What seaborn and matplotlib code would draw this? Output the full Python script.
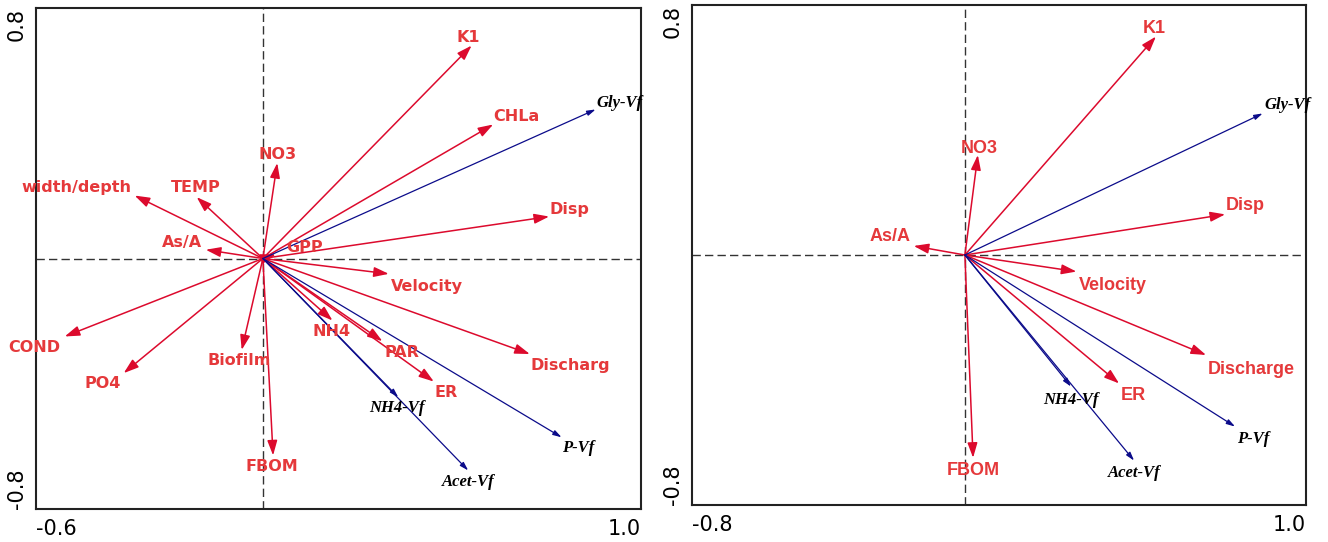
import matplotlib
matplotlib.use("Agg")
import matplotlib.pyplot as plt
import seaborn as sns
from matplotlib.patches import FancyArrowPatch

# ---------------- data ----------------
# Panel 1 : explanatory variables (red) and response variables (blue)
env1_names = ["K1", "CHLa", "Disp", "GPP", "Velocity", "Discharg", "PAR", "ER",
              "NH4", "FBOM", "Biofilm", "PO4", "COND", "width/depth", "TEMP",
              "As/A", "NO3"]
env1_x = [0.552, 0.609, 0.757, 0.034, 0.333, 0.706, 0.316, 0.452,
          0.184, 0.027, -0.056, -0.368, -0.524, -0.339, -0.175, -0.151, 0.038]
env1_y = [0.680, 0.428, 0.134, 0.013, -0.049, -0.305, -0.264, -0.393,
          -0.198, -0.629, -0.292, -0.366, -0.249, 0.201, 0.196, 0.028, 0.305]
sp1_names = ["Gly-Vf", "NH4-Vf", "P-Vf", "Acet-Vf"]
sp1_x = [0.880, 0.358, 0.790, 0.543]
sp1_y = [0.476, -0.443, -0.571, -0.677]

# Panel 2
env2_names = ["K1", "NO3", "As/A", "Disp", "Velocity", "Discharge", "ER", "FBOM"]
env2_x = [0.560, 0.038, -0.150, 0.763, 0.327, 0.707, 0.452, 0.024]
env2_y = [0.699, 0.320, 0.029, 0.130, -0.053, -0.320, -0.411, -0.649]
sp2_names = ["Gly-Vf", "NH4-Vf", "P-Vf", "Acet-Vf"]
sp2_x = [0.873, 0.311, 0.792, 0.496]
sp2_y = [0.453, -0.421, -0.549, -0.658]

# axes ticks / labels
x1_ticks = [-0.6, -0.4, -0.2, 0.0, 0.2, 0.4, 0.6, 0.8, 1.0]
x1_labels = ["-0.6", "", "", "", "", "", "", "", "1.0"]
y1_ticks = [-0.8, -0.6, -0.4, -0.2, 0.0, 0.2, 0.4, 0.6, 0.8]
y1_labels = ["-0.8", "", "", "", "", "", "", "", "0.8"]
x2_ticks = [-0.8, -0.5, 0.0, 0.5, 1.0]
x2_labels = ["-0.8", "", "", "", "1.0"]
y2_ticks = [-0.8, -0.5, 0.0, 0.5, 0.8]
y2_labels = ["-0.8", "", "", "", "0.8"]

# ---------------- label placement (pixels relative to the arrow tip, y down) ----------------
off1 = {
    "K1": (-3, -9, "center"), "CHLa": (0, -9, "left"), "Disp": (0, -8.5, "left"),
    "GPP": (11, -8, "left"), "Velocity": (2, 11, "left"), "Discharg": (1, 10, "left"),
    "PAR": (2, 10, "left"), "ER": (1, 10, "left"), "NH4": (-1, 9.5, "center"),
    "FBOM": (-1, 9.5, "center"), "Biofilm": (-2.5, 9.5, "center"),
    "PO4": (-3.3, 9.5, "right"), "COND": (-4, 9.5, "right"),
    "width/depth": (-3, -9, "right"), "TEMP": (-0.5, -10.5, "center"),
    "As/A": (-3.3, -8.5, "right"), "NO3": (0, -10, "center"),
    "Gly-Vf": (1, -8, "left"), "NH4-Vf": (-1, 9.5, "center"),
    "P-Vf": (0, 9.5, "left"), "Acet-Vf": (0, 10, "center"),
}
off2 = {
    "K1": (-1.5, -10, "center"), "NO3": (1, -8.7, "center"), "As/A": (-2.7, -11.5, "right"),
    "Disp": (0.7, -10.6, "left"), "Velocity": (2.3, 12, "left"),
    "Discharge": (1.7, 12.3, "left"), "ER": (1.7, 10.3, "left"), "FBOM": (0, 10.6, "center"),
    "Gly-Vf": (1.3, -10, "left"), "NH4-Vf": (0, 12.3, "center"),
    "P-Vf": (2.4, 10.8, "left"), "Acet-Vf": (0, 11.3, "center"),
}

RED_LINE = "#DC0A2D"
RED_TEXT = "#E5393B"
BLUE = "#0B0B8A"

sns.set_theme(style="white")
plt.rcParams["font.family"] = ["DejaVu Sans"]

W, H = 1328, 542
fig = plt.figure(figsize=(W / 100, H / 100), dpi=100)
ax1 = fig.add_axes([36 / W, (H - 509) / H, (641 - 36) / W, (509 - 8) / H])
ax2 = fig.add_axes([692 / W, (H - 505) / H, (1306 - 692) / W, (505 - 5) / H])


def draw_panel(ax, xlim, ylim, xt, xl, yt, yl, env, sp, offs, env_fs, env_font, sp_fs):
    ax.set_xlim(*xlim)
    ax.set_ylim(*ylim)
    ax.axhline(0, color="#333333", lw=1.0, ls=(0, (6, 3)), zorder=1)
    ax.axvline(0, color="#333333", lw=1.0, ls=(0, (6, 3)), zorder=1)

    for names, xs, ys, kind in (env + ("env",), sp + ("sp",)):
        for n, x, y in zip(names, xs, ys):
            if kind == "env":
                style = "-|>,head_length=0.9,head_width=0.3"
                col, lw = RED_LINE, 1.1
            else:
                style = "-|>,head_length=0.5,head_width=0.15"
                col, lw = BLUE, 0.9
            arr = FancyArrowPatch((0, 0), (x, y), arrowstyle=style, mutation_scale=10,
                                  shrinkA=0, shrinkB=0, color=col, lw=lw, zorder=3)
            ax.add_patch(arr)
            dx, dy, ha = offs[n]
            if kind == "env":
                cap = env_fs * 100 / 72 * 0.72
                ax.annotate(n, (x, y), xytext=(dx, -(dy + cap / 2)), textcoords="offset pixels",
                            ha=ha, va="baseline", color=RED_TEXT, fontsize=env_fs,
                            fontweight="bold", family=env_font,
                            zorder=4, annotation_clip=False)
            else:
                cap = sp_fs * 100 / 72 * 0.66
                ax.annotate(n, (x, y), xytext=(dx, -(dy + cap / 2)), textcoords="offset pixels",
                            ha=ha, va="baseline", color="black", fontsize=sp_fs,
                            fontweight="bold", style="italic",
                            family=["Liberation Serif", "DejaVu Serif"],
                            zorder=4, annotation_clip=False)

    ax.set_xticks(xt)
    ax.set_xticklabels(xl, fontsize=15, family="DejaVu Sans")
    ax.set_yticks(yt)
    ax.set_yticklabels(yl, fontsize=15, rotation=90, family="DejaVu Sans")
    ax.tick_params(axis="both", direction="inout", length=5, width=1.2, color="#222222",
                   labelcolor="black")
    ax.tick_params(axis="x", pad=5)
    ax.tick_params(axis="y", pad=4)
    xlabs = ax.get_xticklabels()
    xlabs[0].set_ha("left")
    xlabs[-1].set_ha("right")
    ylabs = ax.get_yticklabels()
    for t in ylabs:
        t.set_ha("right")
    ylabs[0].set_va("bottom")
    ylabs[-1].set_va("top")
    for s in ax.spines.values():
        s.set_visible(True)
        s.set_color("#222222")
        s.set_linewidth(1.5)
    ax.set_xlabel("")
    ax.set_ylabel("")
    ax.grid(False)


draw_panel(ax1, (-0.6, 1.0), (-0.8, 0.8), x1_ticks, x1_labels, y1_ticks, y1_labels,
           (env1_names, env1_x, env1_y), (sp1_names, sp1_x, sp1_y), off1,
           11.5, ["DejaVu Sans"], 12)
draw_panel(ax2, (-0.8, 1.0), (-0.8, 0.8), x2_ticks, x2_labels, y2_ticks, y2_labels,
           (env2_names, env2_x, env2_y), (sp2_names, sp2_x, sp2_y), off2,
           13, ["Liberation Sans", "DejaVu Sans"], 12)

fig.savefig("out.png", dpi=100, facecolor="white")
